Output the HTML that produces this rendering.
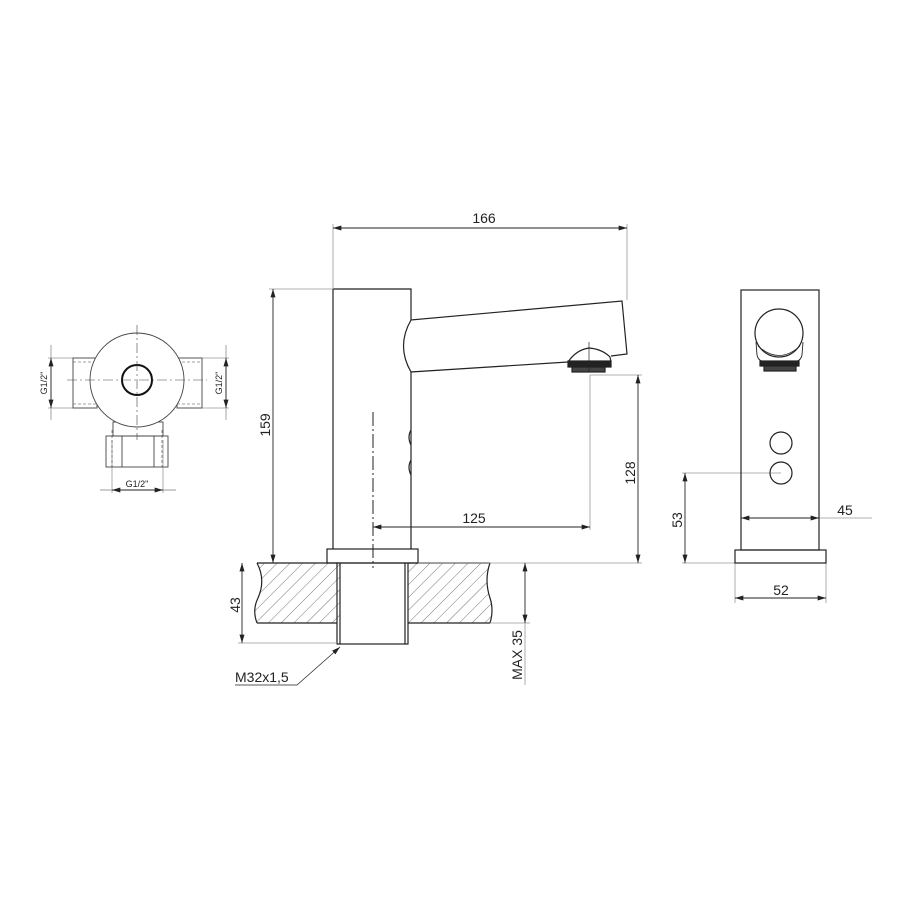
<!DOCTYPE html>
<html><head><style>body{margin:0;background:#fff}svg{display:block}text{font-family:"Liberation Sans",sans-serif;fill:#222}</style></head><body>
<svg width="900" height="900" viewBox="0 0 900 900" xmlns="http://www.w3.org/2000/svg">
<defs>
<marker id="a" viewBox="0 0 10 6" refX="10" refY="3" markerWidth="9" markerHeight="5" orient="auto-start-reverse" markerUnits="userSpaceOnUse"><path d="M0,0L10,3L0,6z" fill="#222"/></marker>
<pattern id="h" width="9" height="9" patternUnits="userSpaceOnUse" patternTransform="rotate(45)"><line x1="0" y1="0" x2="0" y2="9" stroke="#555" stroke-width="0.8"/></pattern>
<clipPath id="c"><path d="M257,563 L340,563 L340,623 L257,623 Q252,610 258,598 Q266,580 257,563Z M408,563 L490,563 Q484,580 490,598 Q494,610 490,623 L408,623Z"/></clipPath>
</defs>
<g fill="none" stroke="#222" stroke-width="1.2">
<rect x="250" y="560" width="250" height="70" fill="url(#h)" stroke="none" clip-path="url(#c)"/>
<path d="M257,563 L337,563 M408,563 L490,563 M257,623 L337,623 M408,623 L490,623 M257,563 Q266,580 258,598 Q252,610 257,623 M490,563 Q484,580 490,598 Q494,610 490,623"/>
<rect x="337" y="563" width="71" height="81"/>
<line x1="340" y1="563" x2="340" y2="644"/><line x1="405" y1="563" x2="405" y2="644"/>
<rect x="327" y="549" width="91" height="14"/>
<path d="M333,549 L333,289 L411,289 L411,320 L622,301 L627,354 L611,356 M568,362 L411,372 L411,549"/>
<path d="M411,320 Q396,346 411,372"/>
<path d="M411,430 Q407,437 411,445 M411,460 Q407,467 411,475"/>
<path d="M568,362 Q576,350 589,348 Q602,349 610,357 L611,362"/>
<rect x="568" y="361" width="43" height="6" fill="#222"/>
<rect x="572" y="367" width="33" height="5" fill="#444"/>
<line x1="373" y1="412" x2="373" y2="568" stroke-dasharray="14,3,2,3" stroke-width="1"/>
<line x1="589" y1="342" x2="589" y2="372" stroke-width="0.7"/>
</g>
<g fill="none" stroke="#999" stroke-width="0.8">
<path d="M333,224V289 M627,224V300 M269,289H333 M590,375H642 M590,375V530 M418,563H642 M238,643H337 M490,623H530 M525,623V685"/>
<path d="M682,473H781 M682,563H735 M819,518H872 M735,563V603 M826,563V603"/>
<path d="M48,358H73 M48,408H73 M202,358H229 M202,408H229 M112,440V493 M163,440V493"/>
</g>
<g stroke="#222" stroke-width="0.9" fill="none">
<line x1="333" y1="228" x2="627" y2="228" marker-start="url(#a)" marker-end="url(#a)"/>
<line x1="273" y1="289" x2="273" y2="563" marker-start="url(#a)" marker-end="url(#a)"/>
<line x1="638" y1="375" x2="638" y2="563" marker-start="url(#a)" marker-end="url(#a)"/>
<line x1="373" y1="527" x2="590" y2="527" marker-start="url(#a)" marker-end="url(#a)"/>
<line x1="242" y1="563" x2="242" y2="643" marker-start="url(#a)" marker-end="url(#a)"/>
<line x1="525" y1="563" x2="525" y2="623" marker-start="url(#a)" marker-end="url(#a)"/>
<path d="M340,647 L297,685 L235,685" stroke-width="0.7" marker-start="url(#a)"/>
<line x1="685" y1="473" x2="685" y2="563" marker-start="url(#a)" marker-end="url(#a)"/>
<line x1="741" y1="518" x2="819" y2="518" marker-start="url(#a)" marker-end="url(#a)"/>
<line x1="735" y1="598" x2="826" y2="598" marker-start="url(#a)" marker-end="url(#a)"/>
<line x1="51" y1="345" x2="51" y2="420" stroke="#999"/>
<line x1="51" y1="358" x2="51" y2="408" marker-start="url(#a)" marker-end="url(#a)"/>
<line x1="226" y1="345" x2="226" y2="420" stroke="#999"/>
<line x1="226" y1="358" x2="226" y2="408" marker-start="url(#a)" marker-end="url(#a)"/>
<line x1="100" y1="490" x2="176" y2="490" stroke="#999"/>
<line x1="112" y1="490" x2="163" y2="490" marker-start="url(#a)" marker-end="url(#a)"/>
</g>
<g fill="none" stroke="#222" stroke-width="1.2">
<rect x="741" y="290" width="78" height="260"/>
<rect x="735" y="550" width="91" height="13"/>
<path d="M756,342 L757,355 Q758,360 762,361 M803,342 L802,355 Q801,360 797,361" stroke-width="0.9"/>
<circle cx="779" cy="333" r="24" fill="#fff"/>
<path d="M758,346 Q779,365 800,346" stroke-width="0.8"/>
<rect x="760" y="361" width="39" height="5" fill="#222"/>
<rect x="764" y="366" width="32" height="5" fill="#444"/>
<circle cx="781" cy="443" r="11"/>
<circle cx="781" cy="473" r="11"/>
</g>
<g fill="none" stroke="#444" stroke-width="0.9">
<rect x="73" y="358" width="24" height="50"/>
<rect x="177" y="358" width="25" height="50"/>
<path d="M73,362H97 M73,404H97 M177,362H202 M177,404H202" stroke-dasharray="3,2" stroke-width="0.6"/>
<rect x="113" y="422" width="50" height="14" fill="#fff"/>
<rect x="106" y="436" width="62" height="31"/>
<path d="M122,436V467 M154,436V467"/>
<path d="M112,430V467 M162,430V467" stroke-dasharray="3,2" stroke-width="0.6"/>
<circle cx="137" cy="380" r="47" fill="#fff"/>
<circle cx="137" cy="380" r="15" stroke="#111" stroke-width="2"/>
<path d="M67,380H207 M137,325V440" stroke-dasharray="10,3,2,3" stroke-width="0.6"/>
</g>
<g font-size="14">
<text x="484" y="223" text-anchor="middle">166</text>
<text x="474" y="523" text-anchor="middle">125</text>
<text transform="translate(270,425) rotate(-90)" text-anchor="middle">159</text>
<text transform="translate(635,473) rotate(-90)" text-anchor="middle">128</text>
<text transform="translate(240,605) rotate(-90)" text-anchor="middle">43</text>
<text transform="translate(522,655) rotate(-90)" text-anchor="middle">MAX 35</text>
<text x="235" y="682">M32x1,5</text>
<text transform="translate(682,520) rotate(-90)" text-anchor="middle">53</text>
<text x="845" y="515" text-anchor="middle">45</text>
<text x="781" y="595" text-anchor="middle">52</text>
</g>
<g font-size="9">
<text transform="translate(47,383) rotate(-90)" text-anchor="middle">G1/2"</text>
<text transform="translate(222,383) rotate(-90)" text-anchor="middle">G1/2"</text>
<text x="137" y="487" text-anchor="middle">G1/2"</text>
</g>
</svg>
</body></html>
